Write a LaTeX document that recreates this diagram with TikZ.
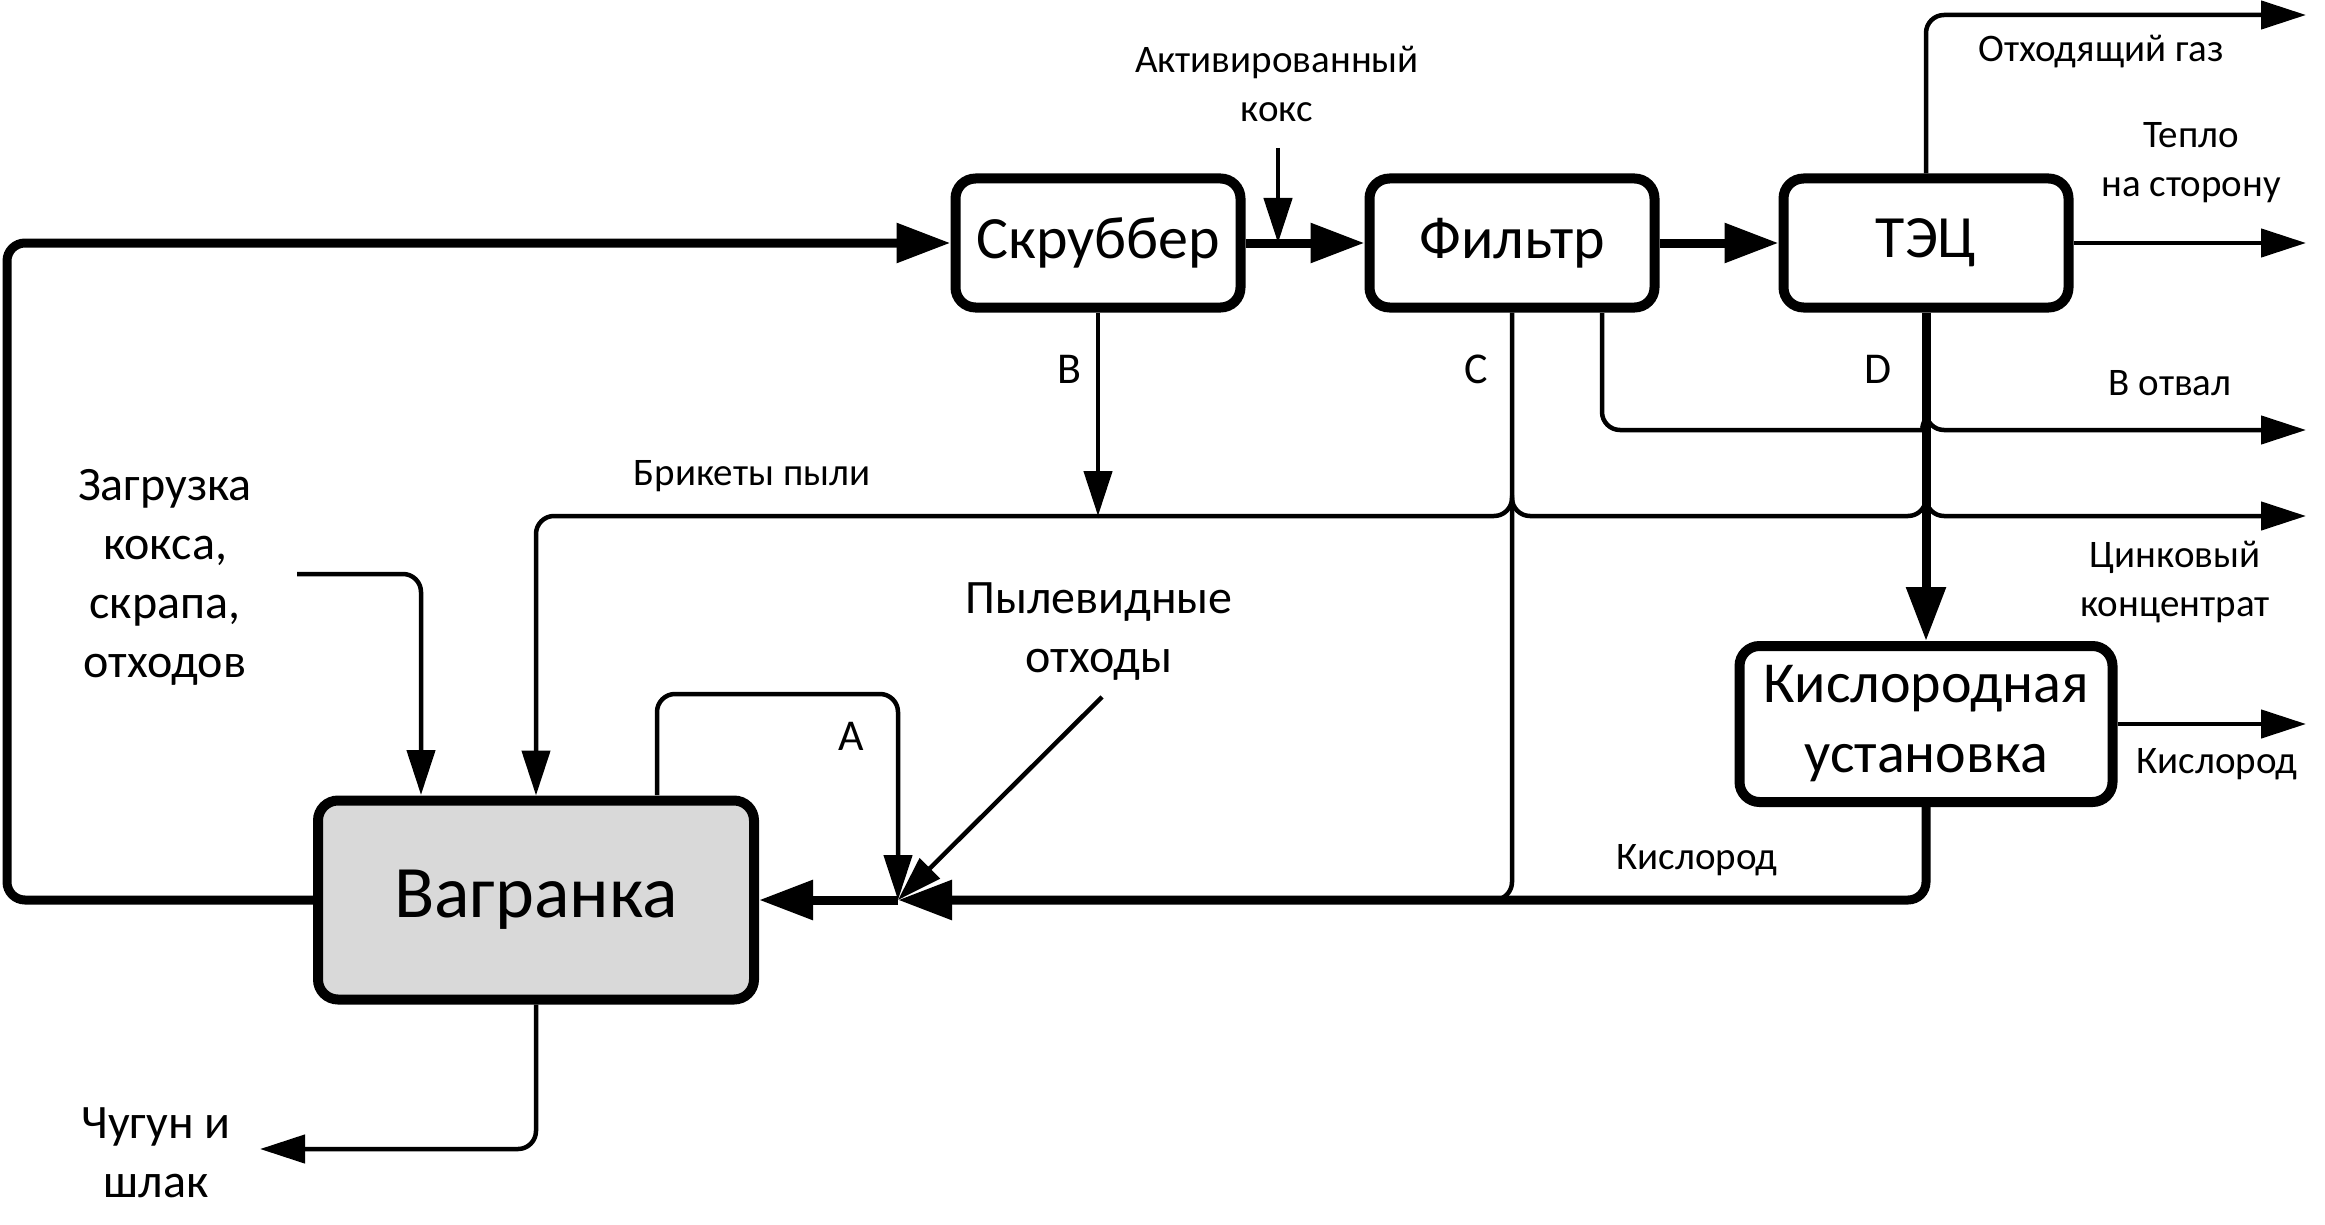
\documentclass[tikz,border=0pt]{standalone}
\usepackage{fontspec}
\setmainfont{Carlito}
\usetikzlibrary{arrows.meta}
\tikzset{
  unit/.style={draw,line width=10pt,rounded corners=20pt,fill=white,
    minimum width=285pt,minimum height=129pt,align=center,
    font=\fontsize{60}{70}\selectfont},
  flow/.style={line width=4.5pt,rounded corners=18pt,
    -{Triangle[length=45pt,width=28pt]}},
  mainflow/.style={line width=9pt,rounded corners=18pt,
    -{Triangle[length=54pt,width=38pt]}},
  tag/.style={font=\fontsize{39}{49}\selectfont,align=center},
  note/.style={font=\fontsize{48}{59}\selectfont,align=center},
  letter/.style={font=\fontsize{44}{50}\selectfont}
}
\begin{document}
\begin{tikzpicture}[x=1pt,y=-1pt]
            \useasboundingbox (0,0) rectangle (2325,1225);
            %draw the units
            \node[unit] (scrub) at (1098,243) {Скруббер};
            \node[unit] (filt) at (1512,243) {Фильтр};
            \node[unit] (tec) at (1926,243) {ТЭЦ};
            \node[unit,minimum width=373pt,minimum height=156pt,
              font=\fontsize{58}{70}\selectfont] (oxy) at (1926,724) {Кислородная\\установка};
            \node[unit,fill=black!15,minimum width=436pt,minimum height=199pt,
              font=\fontsize{74}{80}\selectfont] (cup) at (536,900) {Вагранка};
            %free ends of the flows
            \coordinate (loop) at (7,243);
            \coordinate (coke) at (1278,148);
            \coordinate (gas) at (2306,15);
            \coordinate (heat) at (2306,243);
            \coordinate (brk) at (1098,516);
            \coordinate (zinc) at (2306,516);
            \coordinate (dump0) at (1602,313);
            \coordinate (dump) at (2306,430);
            \coordinate (oxout) at (2306,724);
            \coordinate (feed) at (898,900);
            \coordinate (cjoin) at (1440,900);
            \coordinate (aout) at (657,795);
            \coordinate (atop) at (898,694);
            \coordinate (dust) at (1102,697);
            \coordinate (load) at (297,574);
            \coordinate (loadin) at (421,795);
            \coordinate (iron) at (260,1149);
            %gas line
            \draw[mainflow] (cup.west) -| (loop) -- (scrub.west);
            \draw[flow] (coke) -- (coke |- scrub.east);
            \draw[mainflow] (scrub) -- (filt);
            \draw[mainflow] (filt) -- (tec);
            \draw[flow] (tec.north) |- (gas);
            \draw[flow] (tec) -- (heat);
            %dust and slag
            \draw[flow] (scrub) -- (brk);
            \draw[flow] (brk) -| (cup.north);
            \draw[flow] (brk) [sharp corners] -- (1494,516) arc[start angle=90,end angle=0,radius=18]
              arc[start angle=180,end angle=90,radius=18]
              -- (1908,516) arc[start angle=90,end angle=0,radius=18]
              arc[start angle=180,end angle=90,radius=18] -- (zinc);
            \draw[flow] (dump0) |- (1908,430) [sharp corners] arc[start angle=90,end angle=0,radius=18]
              arc[start angle=180,end angle=90,radius=18] -- (dump);
            \draw[line width=4.5pt,rounded corners=18pt] (filt.south) |- (cjoin);
            %oxygen
            \draw[mainflow] (tec) -- (oxy);
            \draw[flow] (oxy) -- (oxout);
            \draw[mainflow] (oxy) |- (feed);
            \draw[mainflow] (feed) -- (cup);
            %returns into the cupola
            \draw[flow] (aout) |- (atop) -- (feed);
            \draw[flow] (dust) -- (feed);
            \draw[flow] (load) -| (loadin);
            \draw[flow] (cup) |- (iron);
            %labels
            \node[tag] (aktlbl) at (1277,84) {Активированный\\кокс};
            \node[tag] (gaslbl) at (2101,52) {Отходящий газ};
            \node[tag] (heatlbl) at (2191,163) {Тепло\\на сторону};
            \node[letter] (blbl) at (1069,369) {B};
            \node[letter] (clbl) at (1476,369) {C};
            \node[letter] (dlbl) at (1878,369) {D};
            \node[letter] (albl) at (851,736) {A};
            \node[tag] (dumplbl) at (2170,383) {В отвал};
            \node[tag] (brklbl) at (752,476) {Брикеты пыли};
            \node[tag] (zinclbl) at (2175,582) {Цинковый\\концентрат};
            \node[tag] (oxlbl) at (1697,860) {Кислород};
            \node[tag] (oxoutlbl) at (2217,764) {Кислород};
            \node[note] (loadlbl) at (165,577) {Загрузка\\кокса,\\скрапа,\\отходов};
            \node[note] (dustlbl) at (1099,632) {Пылевидные\\отходы};
            \node[note] (ironlbl) at (156,1153) {Чугун и\\шлак};
\end{tikzpicture}
\end{document}
